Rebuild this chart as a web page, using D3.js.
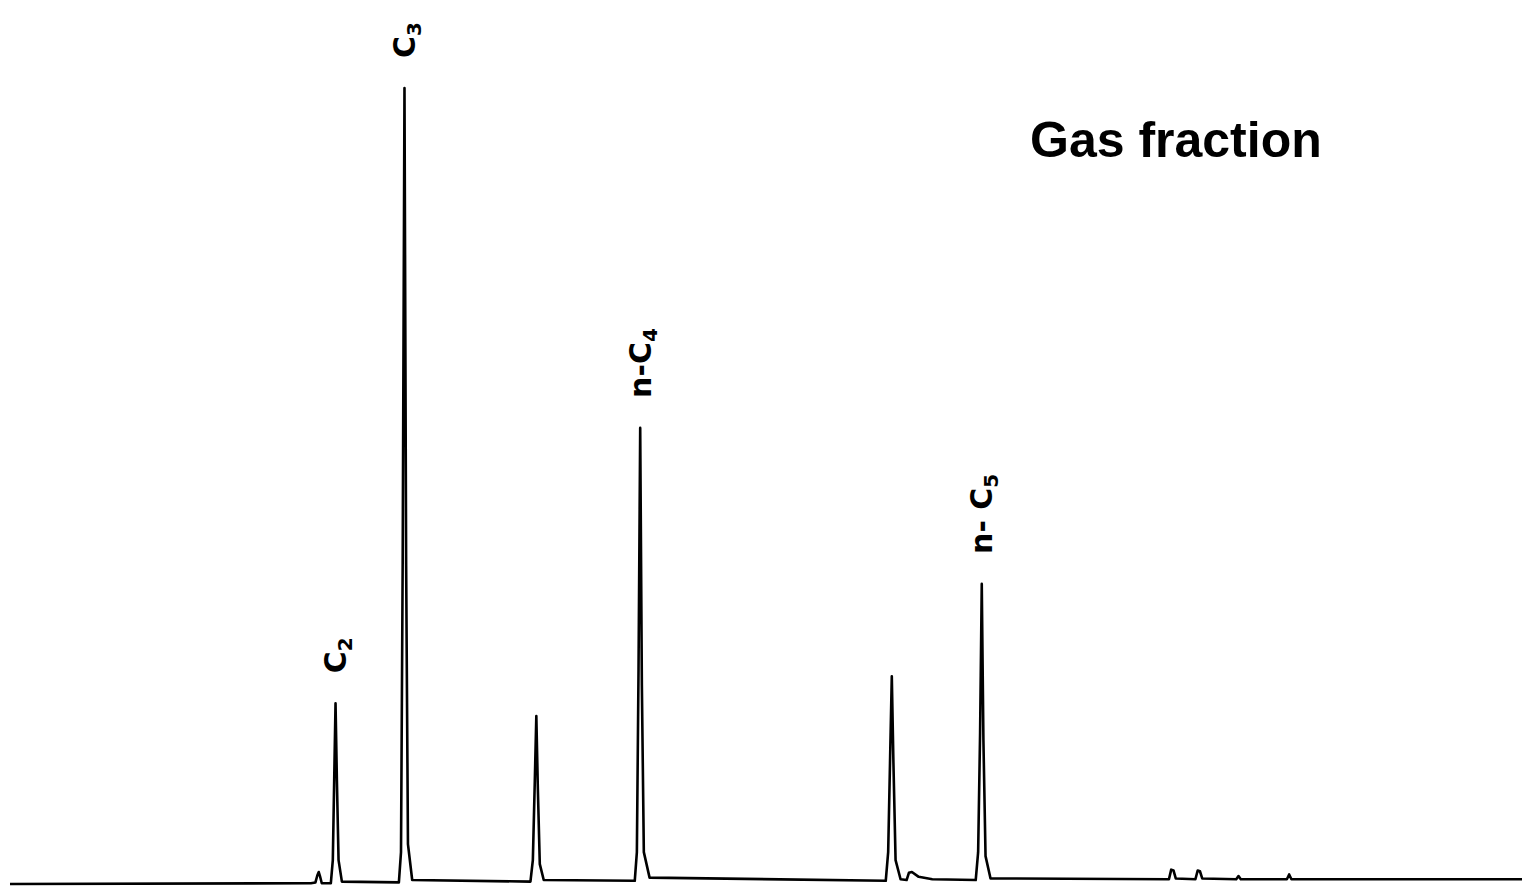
<!DOCTYPE html>
<html>
<head>
<meta charset="utf-8">
<script src="https://d3js.org/d3.v7.min.js"></script>
<style>
  body { margin: 0; background: #fff; }
  svg { display: block; }
</style>
</head>
<body>
<div id="chart"></div>
<script>
// chromatogram trace: [retention (% of run), signal (% of C3 peak)]
var trace = [
  [0, 0.0], [19.9, 0.1], [20.2, 0.2], [20.33, 1.1], [20.42, 1.5], [20.5, 1.0], [20.62, 0.1],
  [21.22, 0.1], [21.35, 3], [21.45, 14], [21.53, 22.7], [21.62, 13], [21.73, 3], [21.95, 0.3],
  [25.72, 0.2], [25.86, 4], [25.97, 40], [26.09, 100], [26.2, 40], [26.32, 5], [26.6, 0.5],
  [34.42, 0.3], [34.58, 3], [34.71, 13], [34.81, 21.1], [34.91, 12], [35.04, 2.5], [35.3, 0.5],
  [41.32, 0.4], [41.46, 4], [41.57, 27], [41.68, 57.3], [41.79, 25], [41.92, 4], [42.3, 0.8],
  [57.92, 0.4], [58.08, 4], [58.21, 16], [58.32, 26.1], [58.43, 15], [58.57, 3], [58.9, 0.6],
  [59.3, 0.5], [59.45, 1.4], [59.65, 1.5], [60.1, 0.9], [61.0, 0.6],
  [63.87, 0.5], [64.03, 4], [64.16, 19], [64.27, 37.7], [64.38, 18], [64.52, 3.5], [64.85, 0.7],
  [76.65, 0.6], [76.8, 1.8], [76.95, 1.7], [77.1, 0.7],
  [78.4, 0.6], [78.55, 1.7], [78.7, 1.6], [78.85, 0.7],
  [81.1, 0.6], [81.25, 1.0], [81.4, 0.6],
  [84.45, 0.6], [84.6, 1.2], [84.75, 0.6], [100, 0.6]
];

// peak labels: base text, subscript, retention, peak height
var labelNames = ["C", "C", "n-C", "n- C"];
var labelSubs = ["2", "3", "4", "5"];
var labelTimes = [21.53, 26.09, 41.68, 64.27];
var labelHeights = [22.7, 100, 57.3, 37.7];

var title = "Gas fraction";

var width = 1529, height = 890;

var svg = d3.select("#chart").append("svg")
    .attr("width", width)
    .attr("height", height);

var x = d3.scaleLinear().domain([0, 100]).range([10, 1522]);
var y = d3.scaleLinear().domain([0, 100]).range([884, 88]);

var line = d3.line()
    .x(function(d) { return x(d[0]); })
    .y(function(d) { return y(d[1]); });

svg.append("path")
    .datum(trace)
    .attr("d", line)
    .attr("fill", "none")
    .attr("stroke", "#000")
    .attr("stroke-width", 2.6)
    .attr("stroke-linejoin", "round");

// rotated labels above the named peaks
for (var i = 0; i < labelNames.length; i++) {
  var px = x(labelTimes[i]), py = y(labelHeights[i]) - 30;
  var t = svg.append("text")
      .attr("transform", "translate(" + px + "," + py + ") rotate(-90)")
      .attr("dy", "0.35em")
      .style("font-family", "'DejaVu Sans', sans-serif")
      .style("font-weight", "bold")
      .style("font-size", "30px")
      .style("fill", "#000");
  t.append("tspan").text(labelNames[i]);
  t.append("tspan")
      .attr("dy", "0.3em")
      .style("font-size", "20px")
      .text(labelSubs[i]);
}

svg.append("text")
    .attr("x", 1030)
    .attr("y", 157)
    .style("font-family", "'Liberation Sans', Arial, sans-serif")
    .style("font-weight", "bold")
    .style("font-size", "50px")
    .style("fill", "#000")
    .text(title);
</script>
</body>
</html>
